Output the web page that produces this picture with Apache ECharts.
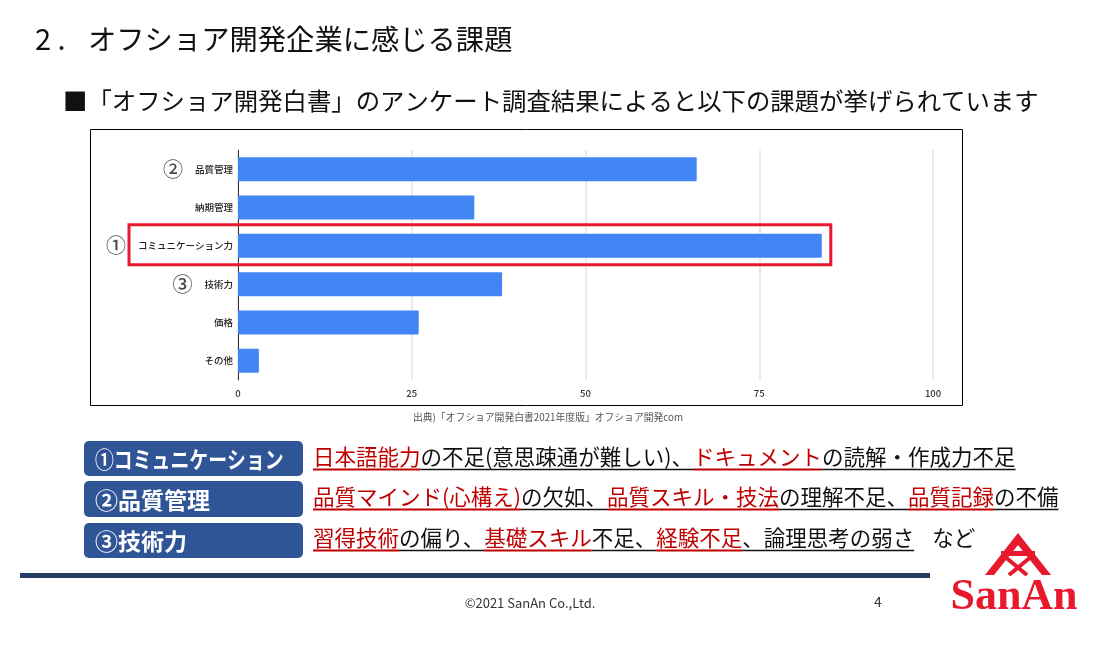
<!DOCTYPE html>
<html>
<head>
<meta charset="utf-8">
<script src="https://cdn.jsdelivr.net/npm/echarts@6/dist/echarts.min.js"></script>
<style>
    html, body { margin: 0; padding: 0; background: #fff; }
    #main { width: 1111px; height: 647px; }
</style>
</head>
<body>
<div id="main"></div>
<script>
    // data
    var categories = ['品質管理', '納期管理', 'コミュニケーション力', '技術力', '価格', 'その他'];
    var values = [66, 34, 84, 38, 26, 3];
    var rankMarks = ['②', '', '①', '③', '', ''];
    var xTicks = [0, 25, 50, 75, 100];

    var JP = "'Noto Sans CJK JP', 'Noto Sans', sans-serif";
    var RED = '#C00000';
    var NAVY = '#2F5597';

    var chart = echarts.init(document.getElementById('main'));

    chart.setOption({
        backgroundColor: '#fff',
        animation: false,
        grid: {left: 238, right: 178, top: 150, bottom: 267},
        xAxis: {
            type: 'value',
            min: xTicks[0],
            max: xTicks[xTicks.length - 1],
            interval: xTicks[1] - xTicks[0],
            axisLine: {show: false},
            axisTick: {show: false},
            axisLabel: {color: '#333', fontSize: 9.5, fontWeight: 500, fontFamily: JP, margin: 9},
            splitLine: {lineStyle: {color: '#e3e3e3', width: 1.5}}
        },
        yAxis: {
            type: 'category',
            inverse: true,
            data: categories,
            axisLine: {show: true, lineStyle: {color: '#333', width: 1}},
            axisTick: {show: false},
            axisLabel: {
                margin: 5,
                formatter: function (v, i) {
                    var m = rankMarks[i];
                    return (m ? '{n|' + m + '}' : '') + '{c|' + v + '}';
                },
                rich: {
                    n: {fontSize: 20, color: '#4a4a4a', fontWeight: 500, fontFamily: JP, padding: [0, 12, 0, 0]},
                    c: {fontSize: 9.5, color: '#222', fontWeight: 500, fontFamily: JP}
                }
            }
        },
        series: [{
            type: 'bar',
            data: values,
            barWidth: 24,
            itemStyle: {color: '#4285F4', borderRadius: 1}
        }]
    });

    // text measuring for the underlined lines
    var ctx = document.createElement('canvas').getContext('2d');
    function measure(text, size, weight) {
        ctx.font = (weight || 'normal') + ' ' + size + 'px ' + JP;
        return ctx.measureText(text).width;
    }

    var g = [];

    // chart frame
    g.push({type: 'rect', shape: {x: 90.5, y: 129.5, width: 872, height: 276},
        style: {fill: null, stroke: '#000', lineWidth: 1}, z: 1});

    // titles
    g.push({type: 'text', x: 35, y: 39, style: {text: '2 .', font: 'normal 29px ' + JP, fill: '#111', verticalAlign: 'middle'}});
    g.push({type: 'text', x: 88, y: 39, style: {text: 'オフショア開発企業に感じる課題', font: 'normal 28.3px ' + JP, fill: '#111', verticalAlign: 'middle'}});
    g.push({type: 'text', x: 63, y: 101, style: {text: '■「オフショア開発白書」のアンケート調査結果によると以下の課題が挙げられています', font: 'normal 24.4px ' + JP, fill: '#111', verticalAlign: 'middle'}});

    // source note
    g.push({type: 'text', x: 548, y: 417, style: {text: '出典)「オフショア開発白書2021年度版」オフショア開発com', font: 'normal 9.8px ' + JP, fill: '#555', align: 'center', verticalAlign: 'middle'}});

    // highlight box around the top answer
    var topIdx = values.indexOf(Math.max.apply(null, values));
    var yc = chart.convertToPixel({yAxisIndex: 0}, categories[topIdx]);
    var xr = chart.convertToPixel({xAxisIndex: 0}, values[topIdx]);
    g.push({type: 'rect', shape: {x: 129, y: yc - 21, width: xr + 9 - 129, height: 40},
        style: {fill: null, stroke: '#E8192C', lineWidth: 3}, z: 10});

    // left labels
    var boxes = [
        {text: '①コミュニケーション', y: 441, h: 35, sx: 0.82},
        {text: '②品質管理', y: 481, h: 36, sx: 1},
        {text: '③技術力', y: 523, h: 35, sx: 1}
    ];
    boxes.forEach(function (b) {
        g.push({type: 'rect', shape: {x: 84, y: b.y, width: 219, height: b.h, r: 5},
            style: {fill: NAVY}});
        g.push({type: 'text', x: 95, y: b.y + b.h / 2 + 1, scaleX: b.sx,
            style: {text: b.text, font: 'bold 23px ' + JP, fill: '#fff', verticalAlign: 'middle'}});
    });

    // descriptions with underlines
    var rows = [
        [['日本語能力', 1], ['の不足(意思疎通が難しい)、', 0], ['ドキュメント', 1], ['の読解・作成力不足', 0]],
        [['品質マインド(心構え)', 1], ['の欠如、', 0], ['品質スキル・技法', 1], ['の理解不足、', 0], ['品質記録', 1], ['の不備', 0]],
        [['習得技術', 1], ['の偏り、', 0], ['基礎スキル', 1], ['不足、', 0], ['経験不足', 1], ['、論理思考の弱さ', 0]]
    ];
    var rowY = [457, 497, 538];
    var fs = 21.5;
    rows.forEach(function (row, r) {
        var x = 313;
        row.forEach(function (seg) {
            var w = measure(seg[0], fs);
            var col = seg[1] ? RED : '#111';
            g.push({type: 'text', x: x, y: rowY[r], style: {text: seg[0], font: 'normal ' + fs + 'px ' + JP, fill: col, verticalAlign: 'middle'}});
            g.push({type: 'line', shape: {x1: x, y1: rowY[r] + 12.5, x2: x + w, y2: rowY[r] + 12.5},
                style: {stroke: seg[1] ? RED : '#111', lineWidth: seg[1] ? 2 : 1.3}});
            x += w;
        });
        if (r === 2) {
            g.push({type: 'text', x: x + 18, y: rowY[r], style: {text: 'など', font: 'normal ' + fs + 'px ' + JP, fill: '#111', verticalAlign: 'middle'}});
        }
    });

    // footer
    g.push({type: 'rect', shape: {x: 20, y: 573, width: 910, height: 5}, style: {fill: '#243A63'}});
    g.push({type: 'text', x: 530, y: 603, style: {text: '©2021 SanAn Co.,Ltd.', font: 'normal 13px ' + JP, fill: '#333', align: 'center', verticalAlign: 'middle'}});
    g.push({type: 'text', x: 878, y: 602, style: {text: '4', font: 'normal 14px ' + JP, fill: '#333', align: 'center', verticalAlign: 'middle'}});

    // logo
    var LOGO = '#E8192C';
    g.push({type: 'polygon', shape: {points: [[1018, 533], [1051, 575], [1042, 575], [1018, 545], [994, 575], [985, 575]]}, style: {fill: LOGO}});
    g.push({type: 'rect', shape: {x: 1001, y: 551, width: 34, height: 5}, style: {fill: LOGO}});
    g.push({type: 'line', shape: {x1: 1004, y1: 556, x2: 1027, y2: 575}, style: {stroke: LOGO, lineWidth: 4}});
    g.push({type: 'line', shape: {x1: 1032, y1: 556, x2: 1009, y2: 575}, style: {stroke: LOGO, lineWidth: 4}});
    g.push({type: 'text', x: 1014, y: 598, style: {text: 'SanAn', font: 'bold 44px "Liberation Serif", serif', fill: LOGO, align: 'center', verticalAlign: 'middle'}});

    chart.setOption({graphic: g});
</script>
</body>
</html>
